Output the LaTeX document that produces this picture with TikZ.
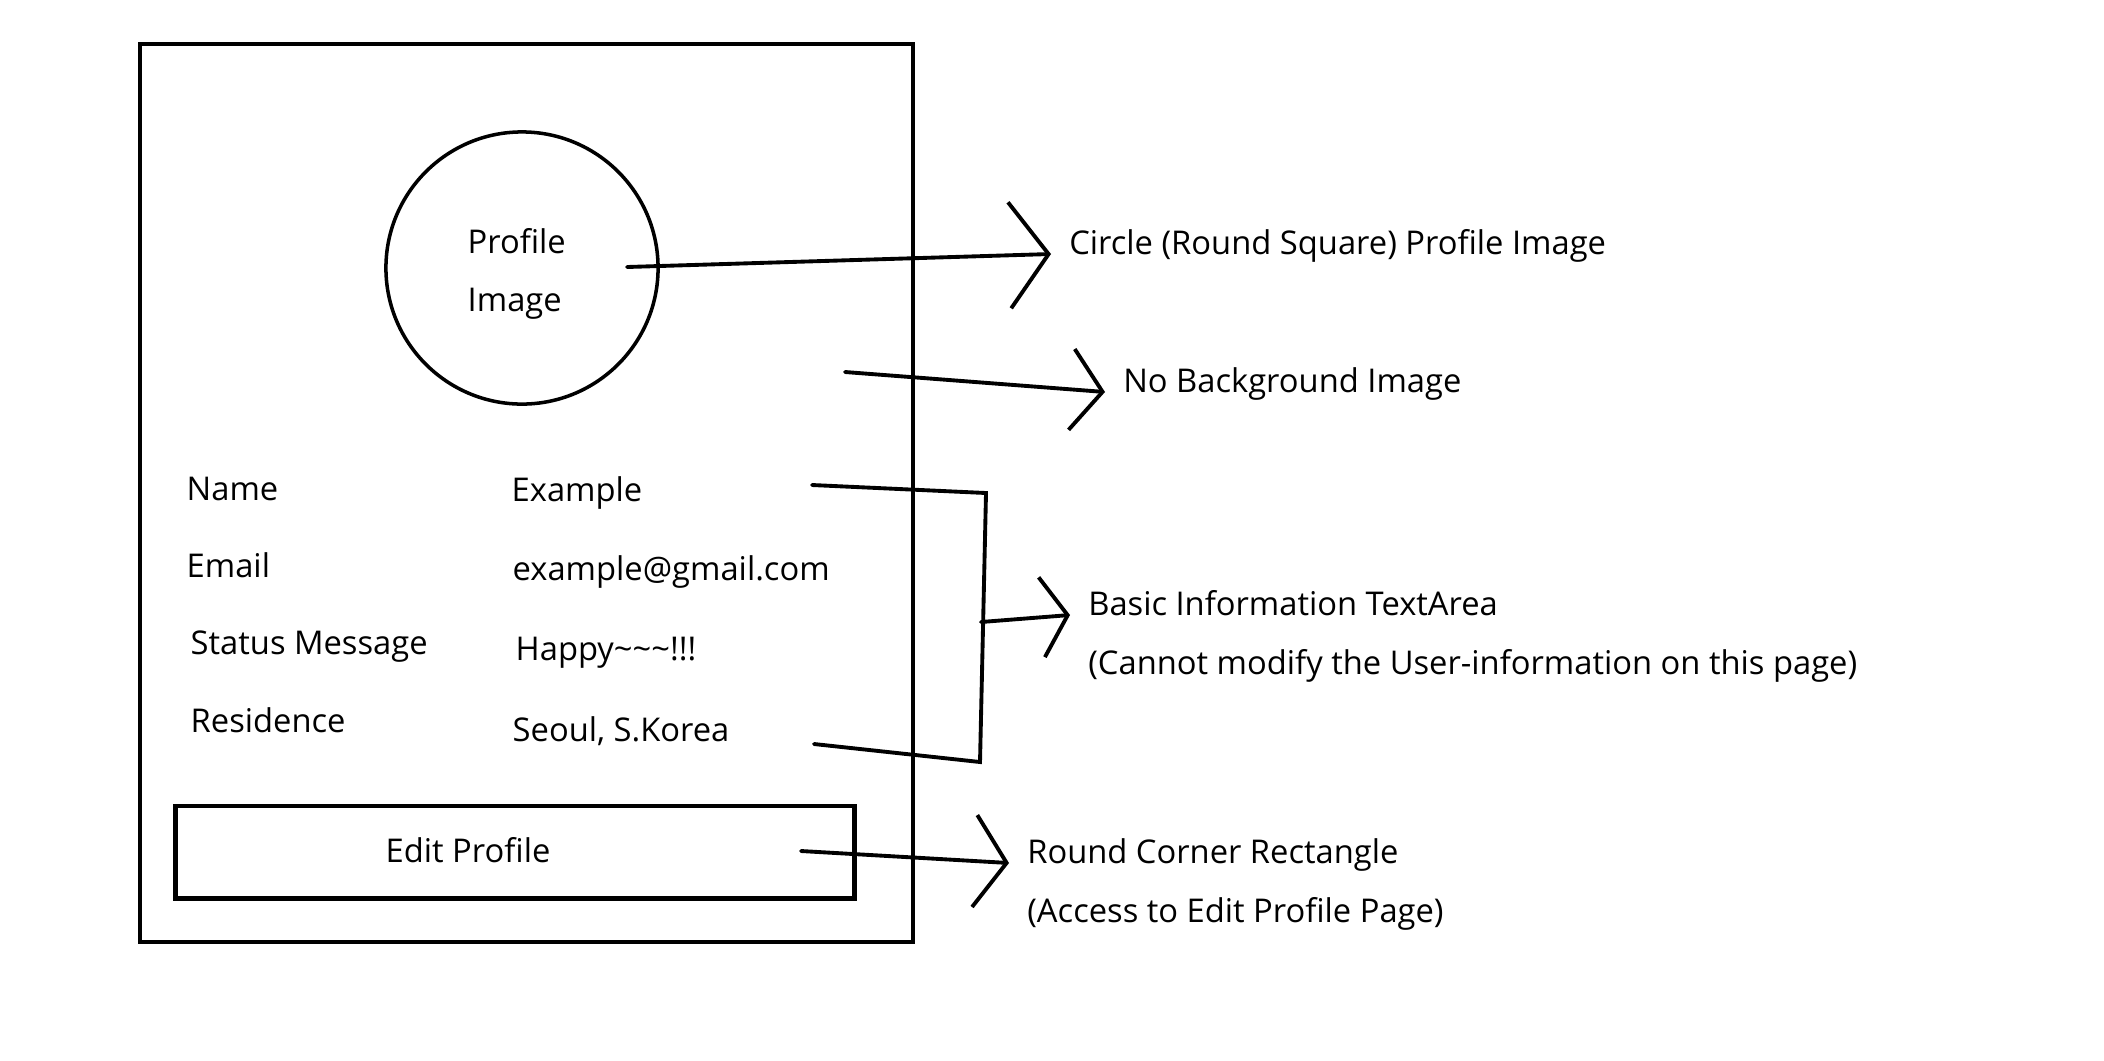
\documentclass[tikz,border=0pt]{standalone}
\usepackage{fontspec}
\setmainfont{Open Sans}
\usetikzlibrary{arrows.meta,positioning}
\tikzset{
  txt/.style={font=\fontsize{9.3}{11}\selectfont, inner sep=0pt, anchor=base west},
  note/.style={txt, inner xsep=5pt},
  pen/.style={line width=1.1pt, line cap=round},
  pointer/.style 2 args={pen, -{Straight Barb[length=#1, width=#2, line width=1.1pt]}}
}
\begin{document}
\begin{tikzpicture}[x=0.01cm, y=-0.01cm]
\useasboundingbox (0,0) rectangle (2104,1060);
% Rámeček obrazovky
\node[draw, line width=1.2pt, minimum width=7.73cm, minimum height=8.98cm, inner sep=0pt] (frame) at (526.5,493) {};
% Profilový obrázek
\node[draw, circle, line width=1pt, minimum size=2.72cm, inner sep=0pt] (pic) at (522,268) {};
\node[txt] (pictop) at (467,253) {Profile};
\node[txt] (picbot) at (467,311) {Image};
% Údaje
\node[txt] (name) at (186,500) {Name};
\node[txt] (email) at (186,577) {Email};
\node[txt] (status) at (190,654) {Status Message};
\node[txt] (home) at (190,732) {Residence};
\node[txt] (nameval) at (511,501) {Example};
\node[txt] (emailval) at (512,580) {example@gmail.com};
\node[txt] (statusval) at (515,660) {Happy\char`\~\char`\~\char`\~!!!};
\node[txt] (homeval) at (512,741) {Seoul, S.Korea};
% Tlačítko
\node[draw, line width=1.4pt, minimum width=6.78cm, minimum height=0.92cm, inner sep=0pt] (btn) at (515,852) {};
\node[txt] (btntext) at (385,862) {Edit Profile};
% Popisky
\node[note] (lbl1) at (1051,254) {Circle (Round Square) Profile Image};
\node[note] (lbl2) at (1105,392) {No Background Image};
\node[note] (lbl3) at (1070,615) {Basic Information TextArea};
\node[note, below=0.59cm of lbl3.base west, anchor=base west] (lbl3b) {(Cannot modify the User-information on this page)};
\node[note] (lbl4) at (1009,863) {Round Corner Rectangle};
\node[note, below=0.59cm of lbl4.base west, anchor=base west] (lbl4b) {(Access to Edit Profile Page)};
% Šipky
\coordinate (c1) at (627,267);
\coordinate (c2) at (845,372);
\coordinate (c4) at (801,851);
\draw[pointer={0.39cm}{1.06cm}] (c1) -- (lbl1.base west);
\draw[pointer={0.31cm}{0.81cm}] (c2) -- (lbl2.base west);
\draw[pointer={0.32cm}{0.92cm}] (c4) -- (lbl4.base west);
% Závorka
\coordinate (nameend) at (812,485);
\coordinate (brtop) at (986,493);
\coordinate (brbot) at (980,762);
\coordinate (homeend) at (814,744);
\coordinate (brmid) at (981,622);
\draw[pen] (nameend) -- (brtop) -- (brbot) -- (homeend);
\draw[pointer={0.26cm}{0.8cm}] (brmid) -- (lbl3.base west);
\end{tikzpicture}
\end{document}
